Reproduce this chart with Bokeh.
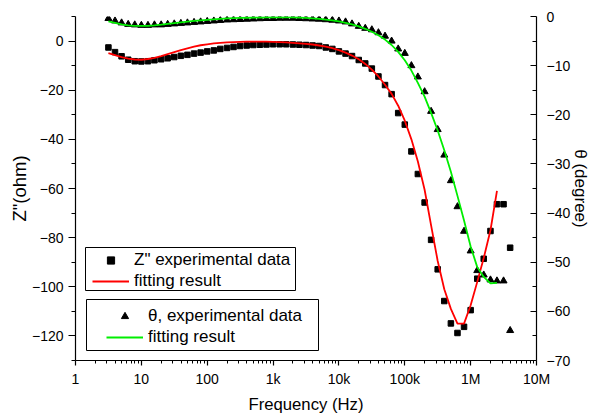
from bokeh.plotting import figure
from bokeh.models import (Range1d, LinearAxis, FixedTicker, CustomJSTickFormatter,
                          Legend, LegendItem, BoxAnnotation)
from bokeh.embed import file_html
from bokeh.resources import INLINE

# Frequencies (Hz), 10 points per decade
freq = [3.16, 3.98, 5.01, 6.31, 7.94,
        10.0, 12.6, 15.8, 20.0, 25.1, 31.6, 39.8, 50.1, 63.1, 79.4,
        100, 126, 158, 200, 251, 316, 398, 501, 631, 794,
        1000, 1260, 1580, 2000, 2510, 3160, 3980, 5010, 6310, 7940,
        1.0e4, 1.26e4, 1.58e4, 2.0e4, 2.51e4, 3.16e4, 3.98e4, 5.01e4, 6.31e4, 7.94e4,
        1.0e5, 1.26e5, 1.58e5, 2.0e5, 2.51e5, 3.16e5, 3.98e5, 5.01e5, 6.31e5, 7.94e5,
        1.0e6, 1.26e6, 1.58e6, 2.0e6, 2.51e6, 3.16e6, 3.98e6]

# Z'' experimental data (ohm)
z_exp = [-2.6, -4.5, -6.2, -7.6, -8.2, -8.3, -8.2, -7.8, -7.4, -7.0,
         -6.5, -6.0, -5.6, -5.1, -4.7, -4.2, -3.8, -3.2, -2.8, -2.4,
         -2.0, -1.8, -1.6, -1.5, -1.4, -1.3, -1.3, -1.3, -1.4, -1.5,
         -1.6, -1.8, -2.0, -2.6, -3.2, -4.2, -5.1, -6.1, -7.7, -9.1,
         -11.2, -14.4, -17.9, -21.6, -29.3, -34.0, -44.9, -54.1, -65.7, -80.9,
         -92.9, -105.8, -114.9, -118.8, -116.3, -109.5, -96.7, -88.6, -77.3, -66.4,
         -66.4, -84.1]

# Z'' fitting result (ohm)
z_fit = [-4.9, -5.7, -6.5, -7.1, -7.5, -7.6, -7.3, -6.8, -6.1, -5.3,
         -4.5, -3.7, -3.0, -2.3, -1.7, -1.3, -0.9, -0.7, -0.5, -0.4,
         -0.3, -0.25, -0.2, -0.2, -0.25, -0.3, -0.4, -0.5, -0.7, -0.9,
         -1.1, -1.4, -1.8, -2.3, -2.9, -3.7, -4.7, -5.9, -7.4, -9.3,
         -11.6, -14.4, -17.8, -21.5, -26.3, -32.4, -40.0, -49.0, -60.5, -75.0,
         -89.5, -101.0, -109.0, -115.0, -115.0, -107.5, -98.0, -88.3, -77.0, -61.0]

# theta experimental data (degree)
th_exp = [-0.4, -0.9, -1.3, -1.6, -1.7, -1.8, -1.8, -1.7, -1.7, -1.6,
          -1.5, -1.4, -1.3, -1.2, -1.1, -1.0, -0.9, -0.8, -0.7, -0.65,
          -0.6, -0.55, -0.5, -0.45, -0.4, -0.4, -0.35, -0.35, -0.35, -0.4,
          -0.45, -0.5, -0.55, -0.65, -0.75, -0.9, -1.1, -1.5, -2.0, -2.4,
          -2.7, -3.3, -4.0, -5.0, -6.6, -7.5, -10.0, -12.3, -15.3, -19.3,
          -23.0, -28.2, -33.4, -38.7, -43.7, -47.7, -51.7, -52.6, -53.6, -53.8,
          -53.8, -63.9]

# theta fitting result (degree)
th_fit = [-1.0, -1.3, -1.6, -1.8, -1.9, -1.9, -1.9, -1.8, -1.65, -1.5,
          -1.35, -1.2, -1.05, -0.9, -0.8, -0.7, -0.6, -0.5, -0.4, -0.35,
          -0.3, -0.25, -0.2, -0.2, -0.15, -0.15, -0.15, -0.15, -0.15, -0.2,
          -0.3, -0.4, -0.5, -0.65, -0.8, -1.0, -1.3, -1.6, -2.0, -2.5,
          -3.1, -3.8, -4.7, -5.8, -7.2, -8.9, -11.0, -13.5, -16.3, -19.6,
          -23.2, -27.2, -31.6, -36.5, -41.5, -46.8, -51.0, -53.0, -54.3, -54.2]

x_major = [1, 10, 100, 1e3, 1e4, 1e5, 1e6, 1e7]
x_minor = [m * d for d in [1, 10, 100, 1e3, 1e4, 1e5, 1e6] for m in range(2, 10)]
y_major = [-120, -100, -80, -60, -40, -20, 0]
y_minor = [-130, -110, -90, -70, -50, -30, -10, 10]
t_major = [-70, -60, -50, -40, -30, -20, -10, 0]
t_minor = [-65, -55, -45, -35, -25, -15, -5]

FONT = "Liberation Sans"

p = figure(width=593, height=417, x_axis_type="log", x_range=(1, 1e7), y_range=(-130, 10),
           output_backend="svg", toolbar_location=None,
           min_border_left=75, min_border_right=54, min_border_top=16, min_border_bottom=57)
p.outline_line_color = None
p.grid.visible = False
p.background_fill_color = "white"
p.border_fill_color = "white"
p.extra_y_ranges = {"theta": Range1d(-70, 0)}

# bottom axis
xa = p.xaxis[0]
xa.ticker = FixedTicker(ticks=x_major, minor_ticks=x_minor)
xa.formatter = CustomJSTickFormatter(code="""
    if (tick >= 1e6) return (tick/1e6).toFixed(0) + 'M';
    if (tick >= 1e3) return (tick/1e3).toFixed(0) + 'k';
    return tick.toFixed(0);
""")
xa.axis_label = "Frequency (Hz)"

# left axis
ya = p.yaxis[0]
ya.ticker = FixedTicker(ticks=y_major, minor_ticks=y_minor)
ya.axis_label = 'Z"(ohm)'

# right axis
ra = LinearAxis(y_range_name="theta", ticker=FixedTicker(ticks=t_major, minor_ticks=t_minor),
                axis_label="\u03b8 (degree)")
p.add_layout(ra, "right")

for ax in (xa, ya, ra):
    ax.axis_line_color = "black"
    ax.axis_line_width = 1.2
    ax.major_tick_line_color = "black"
    ax.minor_tick_line_color = "black"
    ax.major_tick_line_width = 1.2
    ax.minor_tick_line_width = 1
    ax.major_label_text_font = FONT
    ax.major_label_text_font_size = "14px"
    ax.major_label_text_color = "black"
    ax.axis_label_text_font = FONT
    ax.axis_label_text_font_style = "normal"
    ax.axis_label_text_color = "black"

xa.major_tick_in = 0; xa.major_tick_out = 5
xa.minor_tick_in = 0; xa.minor_tick_out = 3
xa.major_label_standoff = 5
xa.axis_label_standoff = 5
xa.axis_label_text_font_size = "16.7px"

ya.major_tick_in = 0; ya.major_tick_out = 7
ya.minor_tick_in = 0; ya.minor_tick_out = 4
ya.major_label_standoff = 5
ya.axis_label_standoff = -1
ya.axis_label_text_font_size = "18.5px"

ra.major_tick_in = 6; ra.major_tick_out = 0
ra.minor_tick_in = 4; ra.minor_tick_out = 0
ra.major_label_standoff = 10
ra.axis_label_standoff = -2
ra.axis_label_text_font_size = "17px"

# data
sq = p.scatter(freq, z_exp, marker="square", size=5.5, color="black")
rl = p.line(freq[:len(z_fit)], z_fit, line_color="#ff0000", line_width=1.8)
tr = p.scatter(freq, th_exp, marker="triangle", size=7, color="black", y_range_name="theta")
gl = p.line(freq[:len(th_fit)], th_fit, line_color="#00ee00", line_width=1.8, y_range_name="theta")

def make_legend(items, loc):
    lg = Legend(items=items, location=loc, orientation="vertical",
                glyph_width=37, glyph_height=18, label_height=21, spacing=0,
                padding=0, margin=0, label_standoff=5,
                label_text_font=FONT, label_text_font_size="17px", label_text_color="black",
                border_line_alpha=0, background_fill_alpha=0)
    return lg

leg1 = make_legend([LegendItem(label='Z" experimental data', renderers=[sq]),
                    LegendItem(label="fitting result", renderers=[rl])], (17, 69))
leg2 = make_legend([LegendItem(label="\u03b8, experimental data", renderers=[tr]),
                    LegendItem(label="fitting result", renderers=[gl])], (31, 13))
p.add_layout(leg1, "center")
p.add_layout(leg2, "center")

box1 = BoxAnnotation(left=85, right=295, top=247, bottom=290,
                     left_units="canvas", right_units="canvas", top_units="canvas", bottom_units="canvas",
                     fill_alpha=0, line_color="black", line_width=1, line_alpha=1)
box2 = BoxAnnotation(left=86, right=318, top=299, bottom=350,
                     left_units="canvas", right_units="canvas", top_units="canvas", bottom_units="canvas",
                     fill_alpha=0, line_color="black", line_width=1, line_alpha=1)
p.add_layout(box1)
p.add_layout(box2)

open("out.html", "w").write(file_html(p, INLINE))
